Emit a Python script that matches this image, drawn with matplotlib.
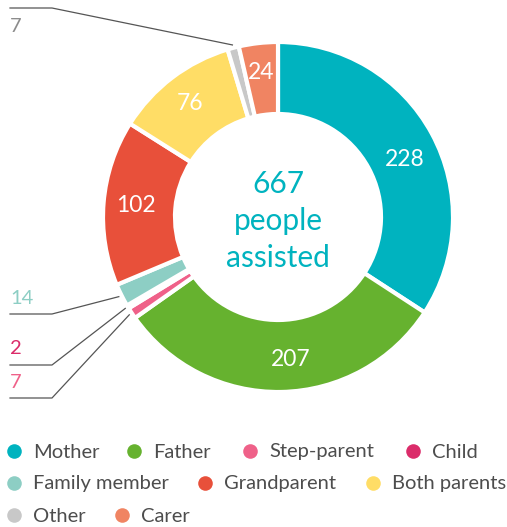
import numpy as np
import matplotlib.pyplot as plt

# data, clockwise from 12 o'clock
labels = ['Mother', 'Father', 'Step-parent', 'Child', 'Family member',
          'Grandparent', 'Both parents', 'Other', 'Carer']
values = [228, 207, 7, 2, 14, 102, 76, 7, 24]
colors = ['#00B3BF', '#66B22F', '#EF6189', '#DB2C6A', '#8DCEC4',
          '#E8503A', '#FFDD66', '#C8C8C8', '#F08462']
label_colors = ['#00B3BF', '#66B22F', '#EF6189', '#DB2C6A', '#8DCEC4',
                '#E8503A', '#FFDD66', '#8C8C8C', '#F08462']
total_text = '667\npeople\nassisted'

# which slices get an outside label and where (pixel layout, y down)
outside = {7: (10, 27, 8), 4: (10, 298, 314), 3: (10, 348, 365), 2: (10, 383, 398)}
# small hand nudges for the inside labels (pixels, y down)
nudge = {0: (5, 9), 1: (10, 4), 5: (-4, 0), 6: (-4, -3), 8: (-1, -6)}

W, H = 507, 527
fig = plt.figure(figsize=(W / 100, H / 100), dpi=100)
ax = fig.add_axes([0, 0, 1, 1])
ax.axis('off')
plt.rcParams['font.family'] = ['Lato', 'DejaVu Sans']

cx, cy = 278, H - 217
R, ring = 175, 72

wedges, _ = ax.pie(values, colors=colors, startangle=90, counterclock=False,
                   radius=R, center=(cx, cy),
                   wedgeprops=dict(width=ring, edgecolor='white', linewidth=3))
ax.set_xlim(0, W)
ax.set_ylim(0, H)

total = sum(values)
start = 0
for i, v in enumerate(values):
    mid = np.radians(90 - (start + v / 2) / total * 360)
    start += v
    if v >= 20:
        r = R - ring / 2
        dx, dy = nudge.get(i, (0, 0))
        ax.text(cx + r * np.cos(mid) + dx, cy + r * np.sin(mid) - dy, str(v),
                color='white', fontsize=16.5, ha='center', va='center')
    elif i in outside:
        tx, ty, ly = outside[i]
        px, py = cx + (R + 3) * np.cos(mid), cy + (R + 3) * np.sin(mid)
        ax.plot([tx, 52, px], [H - ly, H - ly, py], color='#555555', lw=0.9)
        ax.text(tx, H - ty, str(v), color=label_colors[i], fontsize=14.5,
                ha='left', va='center')

ax.text(cx, H - 221, total_text, color='#00B3BF', fontsize=21.5,
        ha='center', va='center', linespacing=1.4)

# legend laid out in rows like the original
rows = [[0, 1, 2, 3], [4, 5, 6], [7, 8]]
row_x = [[14, 134, 250, 413], [14, 205, 373], [14, 122]]
row_y = [451, 483, 515]
for idx_row, xs, y in zip(rows, row_x, row_y):
    for i, x in zip(idx_row, xs):
        ax.scatter([x], [H - y], s=110, color=colors[i], linewidths=0)
        ax.text(x + 19, H - y - 1, labels[i], color='#4D4D4D', fontsize=14.5,
                ha='left', va='center')

fig.savefig('out.png', dpi=100)
